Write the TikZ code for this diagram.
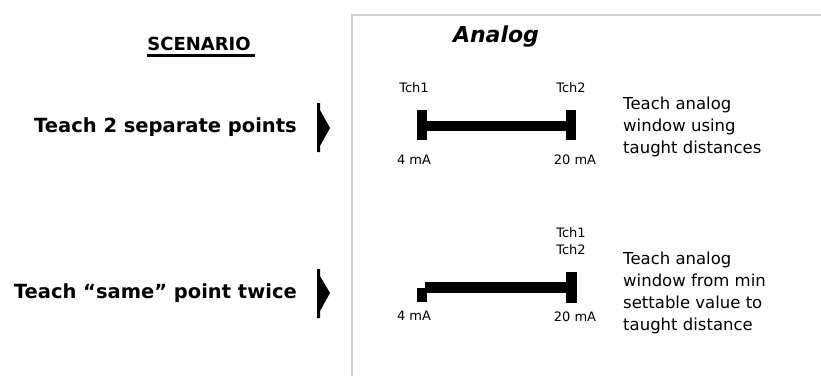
\documentclass[tikz,border=0pt]{standalone}
\usepackage{fontspec}
\setmainfont{DejaVu Sans}
\begin{document}
\begin{tikzpicture}[x=1pt,y=-1pt,
  lbl/.style={inner sep=0pt,font=\fontsize{13}{15}\selectfont},
  scen/.style={inner sep=0pt,anchor=east,font=\bfseries\fontsize{19.5}{22}\selectfont},
  desc/.style={inner sep=0pt,anchor=west,align=left,font=\fontsize{16.5}{22}\selectfont},
  barfill/.style={fill=black},
  marker/.style={fill=black},
  panel/.style={draw=black!18,line width=2pt}]
\useasboundingbox (0,0) rectangle (821,375);
% panel border
\draw[panel] (352,376) -- (352,15) -- (822,15);
% heading
\node[inner sep=0pt,font=\bfseries\fontsize{18}{20}\selectfont] (hd) at (199,44) {SCENARIO};
\draw[line width=2.5pt] ([yshift=-5pt]hd.base west) -- ([yshift=-5pt,xshift=4pt]hd.base east);
\node[inner sep=0pt,font=\bfseries\itshape\fontsize{22}{24}\selectfont] (an) at (496,37) {Analog};
% scenario texts
\node[scen] (s1) at (297,127) {Teach 2 separate points};
\node[scen] (s2) at (297,293) {Teach “same” point twice};
% markers
\fill[marker] (317,103) -- (320,103) -- (320,110) -- (330,128) -- (320,146) -- (320,152) -- (317,152) -- cycle;
\fill[marker] (317,269) -- (320,269) -- (320,276) -- (330,293) -- (320,311) -- (320,318) -- (317,318) -- cycle;
% top bar
\fill[barfill] (417,110) rectangle (427,140);
\fill[barfill] (427,121) rectangle (566,131);
\fill[barfill] (566,110) rectangle (576,140);
\node[lbl] (t1a) at (414,88) {Tch1};
\node[lbl] (t2a) at (571,88) {Tch2};
\node[lbl] (l4a) at (414,160) {4 mA};
\node[lbl] (l20a) at (575,160) {20 mA};
\node[desc] (d1) at (623,127) {Teach analog\\window using\\taught distances};
% bottom bar
\fill[barfill] (417,288) rectangle (427,302);
\fill[barfill] (425,282) rectangle (566,293);
\fill[barfill] (566,272) rectangle (577,303);
\node[lbl] (t1b) at (571,233) {Tch1};
\node[lbl] (t2b) at (571,250) {Tch2};
\node[lbl] (l4b) at (414,316) {4 mA};
\node[lbl] (l20b) at (575,317) {20 mA};
\node[desc] (d2) at (623,293) {Teach analog\\window from min\\settable value to\\taught distance};
\end{tikzpicture}
\end{document}
